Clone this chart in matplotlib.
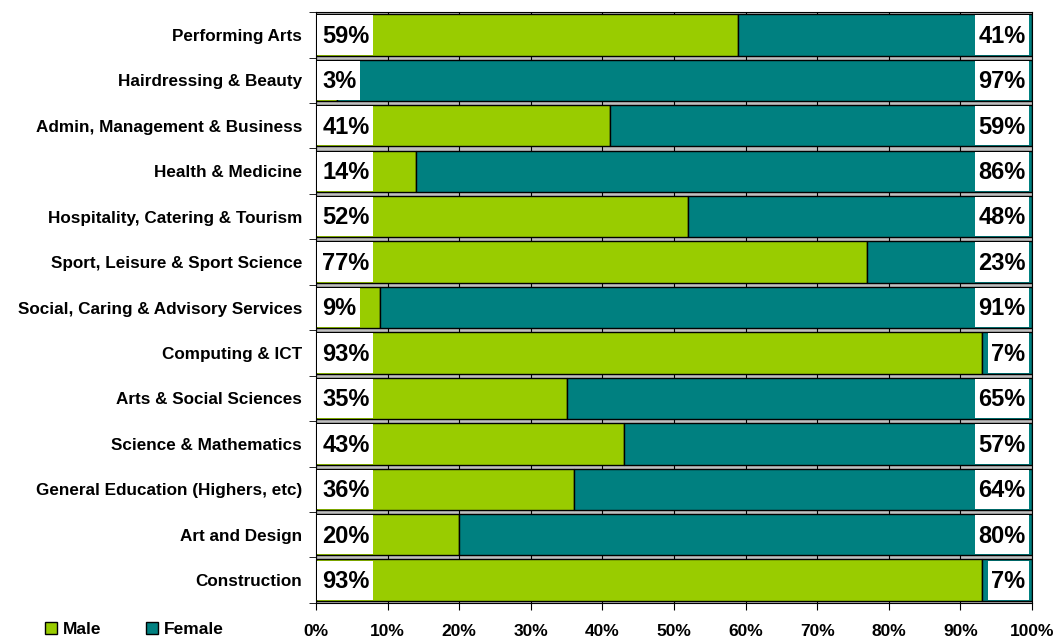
import matplotlib.pyplot as plt
from matplotlib.patches import Patch
from matplotlib.ticker import FixedLocator

plt.rcParams['font.family'] = ['Liberation Sans', 'DejaVu Sans']
plt.rcParams['font.weight'] = 'bold'

# data (top to bottom as shown)
categories = ["Performing Arts", "Hairdressing & Beauty", "Admin, Management & Business",
              "Health & Medicine", "Hospitality, Catering & Tourism", "Sport, Leisure & Sport Science",
              "Social, Caring & Advisory Services", "Computing & ICT", "Arts & Social Sciences",
              "Science & Mathematics", "General Education (Highers, etc)", "Art and Design",
              "Construction"]
male = [59, 3, 41, 14, 52, 77, 9, 93, 35, 43, 36, 20, 93]
female = [41, 97, 59, 86, 48, 23, 91, 7, 65, 57, 64, 80, 7]
xticks = [0, 10, 20, 30, 40, 50, 60, 70, 80, 90, 100]

male_col = "#99CC00"
female_col = "#008080"

fig = plt.figure(figsize=(10.55, 6.39), dpi=100)
ax = fig.add_axes([0.2995, 0.0565, 0.6787, 0.9245])
ax.set_facecolor("#C0C0C0")

y = list(range(len(categories)))
h = 0.91
ax.barh(y, male, height=h, color=male_col, edgecolor="black", linewidth=1, zorder=2)
ax.barh(y, female, left=male, height=h, color=female_col, edgecolor="black", linewidth=1, zorder=2)

ax.set_xlim(0, 100)
ax.set_ylim(len(categories) - 0.5, -0.5)

# value labels
left_txt, right_txt = [], []
for yi, m, f in zip(y, male, female):
    left_txt.append(ax.text(0.9, yi + 0.03, f"{m}%", ha="left", va="center",
                            fontsize=17, fontweight="bold", zorder=4))
    right_txt.append(ax.text(99.1, yi + 0.03, f"{f}%", ha="right", va="center",
                             fontsize=17, fontweight="bold", zorder=4))

# white boxes behind the labels, sized to the text
fig.canvas.draw()
r = fig.canvas.get_renderer()
inv = ax.transData.inverted()
pad = 3.5
bh = h - 0.045
for yi, tl, tr in zip(y, left_txt, right_txt):
    bb = tl.get_window_extent(r)
    x1 = inv.transform((bb.x1 + pad, 0))[0]
    ax.barh(yi, x1 - 0.2, left=0.2, height=bh, color="white", linewidth=0, zorder=3)
    bb = tr.get_window_extent(r)
    x0 = inv.transform((bb.x0 - pad, 0))[0]
    ax.barh(yi, 99.65 - x0, left=x0, height=bh, color="white", linewidth=0, zorder=3)

ax.set_xticks(xticks)
ax.set_xticklabels([f"{t}%" for t in xticks], fontsize=12.5, fontweight="bold")
ax.set_yticks(y)
ax.set_yticklabels(categories, fontsize=12.3, fontweight="bold")
ax.yaxis.set_minor_locator(FixedLocator([i - 0.5 for i in range(len(categories) + 1)]))
ax.tick_params(axis="y", which="major", length=0, pad=10)
ax.tick_params(axis="y", which="minor", length=5, direction="out")
ax.tick_params(axis="x", length=5, direction="out", pad=10)
ax.grid(axis="x", color="black", linewidth=0.8, zorder=1)
ax.set_axisbelow(True)
for s in ax.spines.values():
    s.set_color("black")

handles = [Patch(facecolor=male_col, edgecolor="black", label="Male"),
           Patch(facecolor=female_col, edgecolor="black", label="Female")]
fig.legend(handles=handles, loc="lower left", bbox_to_anchor=(0.028, -0.022), ncol=2,
           frameon=False, handlelength=0.7, handleheight=0.7, handletextpad=0.3,
           columnspacing=2.6, prop={"size": 12.5, "weight": "bold"})

fig.savefig("out.png", dpi=100)
